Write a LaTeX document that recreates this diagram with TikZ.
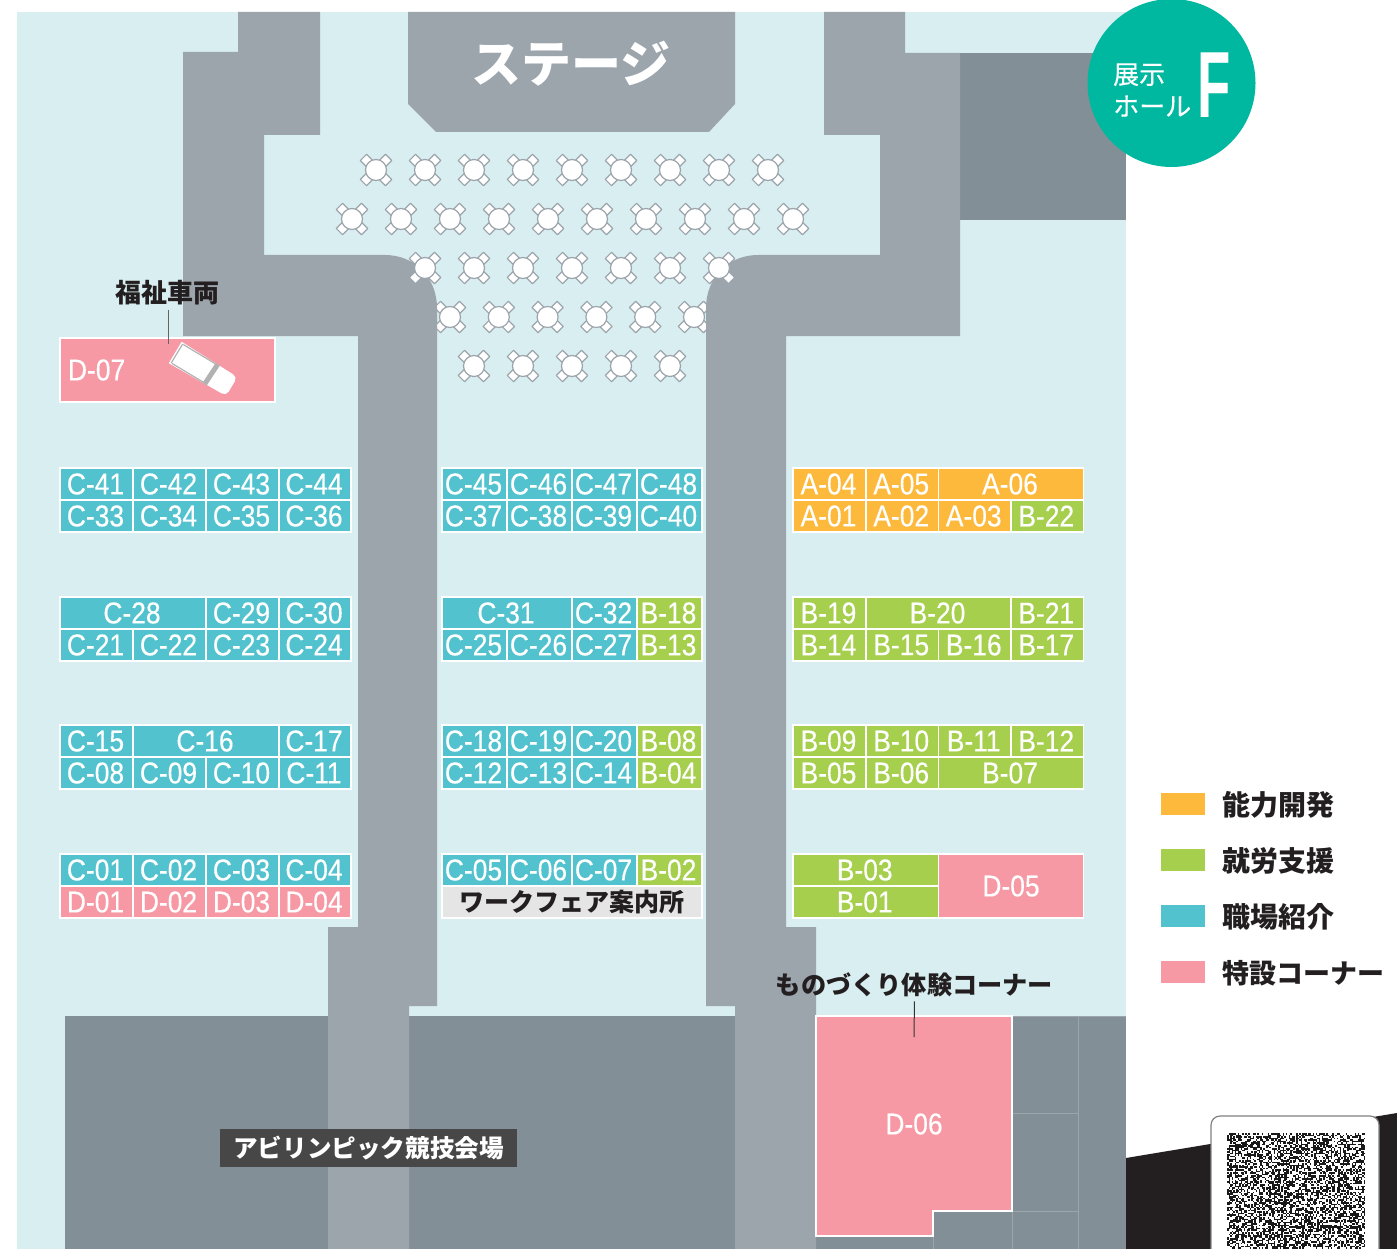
\documentclass[tikz,border=0pt]{standalone}
\usepackage{fontspec}
\setmainfont{Liberation Sans}
\newfontfamily\jpfont{Noto Sans CJK JP}
\newfontfamily\jpmedfont[FakeBold=0.3]{Noto Sans CJK JP}
\newfontfamily\boothfont[FakeStretch=0.88,FakeBold=0.4]{Liberation Sans}
\newfontfamily\hallfont[FakeStretch=0.58]{Liberation Sans}
\definecolor{colA}{HTML}{FDB93B}
\definecolor{colB}{HTML}{A5CF4C}
\definecolor{colC}{HTML}{52C3CE}
\definecolor{colD}{HTML}{F699A5}
\definecolor{floor}{HTML}{D8EEF0}
\definecolor{aisle}{HTML}{9DA5AC}
\definecolor{block}{HTML}{838F96}
\definecolor{inktext}{HTML}{231F20}
\definecolor{badge}{HTML}{00B8A0}
\tikzset{
    booth/.style={draw=white, line width=1.5pt, inner sep=0pt, minimum height=32pt, text=white,
        font=\boothfont\fontsize{30}{30}\selectfont},
    jplabel/.style={inner sep=0pt, text=inktext, font=\jpfont\bfseries\fontsize{#1}{#1}\selectfont},
    swatch/.style={fill=#1, inner sep=0pt, minimum width=44pt, minimum height=22pt},
    pics/roundtable/.style={code={
        \foreach \a in {45,135,225,315}
            \draw[draw=aisle, fill=white, line width=1.2pt, line join=round] (\a:13.4) ++(6.2,0) -- ++(-6.2,6.2) -- ++(-6.2,-6.2) -- ++(6.2,-6.2) -- cycle;
        \draw[draw=aisle, fill=white, line width=1.2pt] (0,0) circle (10.5);
    }}
}
\begin{document}
\begin{tikzpicture}[x=1pt, y=-1pt]
    \useasboundingbox (0,0) rectangle (1397,1249);
    \fill[white] (0,0) rectangle (1397,1249);

    % floor and halls
    \fill[floor] (17,12) rectangle (1126,1249);
    \fill[block] (960,53) rectangle (1126,220);
    \fill[block] (65,1016) rectangle (1126,1249);
    % this row runs under the aisles
    \foreach \x in {0,...,5} \pic at (450+48.8*\x,317) {roundtable};
    \fill[aisle] (238,12) -- (320,12) -- (320,135) -- (264,135) -- (264,255) -- (385,255)
        .. controls (415,255) and (437,278) .. (437,308) -- (437,1006) -- (409,1006) -- (409,1249)
        -- (328,1249) -- (328,927) -- (358,927) -- (358,336) -- (183,336) -- (183,52) -- (238,52) -- cycle;
    \fill[aisle] (905,12) -- (824,12) -- (824,135) -- (880,135) -- (880,255) -- (758,255)
        .. controls (728,255) and (706,278) .. (706,308) -- (706,1006) -- (735,1006) -- (735,1249)
        -- (816,1249) -- (816,927) -- (786,927) -- (786,336) -- (960,336) -- (960,53) -- (905,53) -- cycle;
    \fill[aisle] (408,12) -- (735,12) -- (735,104) -- (709,132) -- (436,132) -- (408,104) -- cycle;
    \node[jplabel=50, text=white] (stage) at (571,64) {ステージ};

    % tables
    \foreach \x in {0,...,8} \pic at (376+49*\x,170) {roundtable};
    \foreach \x in {0,...,9} \pic at (352+49*\x,219) {roundtable};
    \foreach \x in {0,...,6} \pic at (425+49*\x,268) {roundtable};
    \foreach \x in {0,...,4} \pic at (474+49*\x,366) {roundtable};

    % side rooms
    \draw[aisle, line width=1pt] (1012,1016) -- (1126,1016) (1012,1016) -- (1012,1249) (1078,1016) -- (1078,1249)
        (1012,1113) -- (1078,1113) (933,1211) -- (1078,1211) (933,1211) -- (933,1249) (816,1236) -- (933,1236);
    \filldraw[fill=colD, draw=white, line width=1.5pt] (816,1016) -- (1012,1016) -- (1012,1211) -- (933,1211) -- (933,1236) -- (816,1236) -- cycle;
    \node[booth, draw=none] (D-06) at (914,1124) {D-06};

    % left block
    \foreach \x/\w/\y/\t/\c in {
        60/73/468/C-41/colC, 133/73/468/C-42/colC, 206/73/468/C-43/colC, 279/72/468/C-44/colC,
        60/73/500/C-33/colC, 133/73/500/C-34/colC, 206/73/500/C-35/colC, 279/72/500/C-36/colC,
        60/146/597/C-28/colC, 206/73/597/C-29/colC, 279/72/597/C-30/colC,
        60/73/629/C-21/colC, 133/73/629/C-22/colC, 206/73/629/C-23/colC, 279/72/629/C-24/colC,
        60/73/725/C-15/colC, 133/146/725/C-16/colC, 279/72/725/C-17/colC,
        60/73/757/C-08/colC, 133/73/757/C-09/colC, 206/73/757/C-10/colC, 279/72/757/C-11/colC,
        60/73/854/C-01/colC, 133/73/854/C-02/colC, 206/73/854/C-03/colC, 279/72/854/C-04/colC,
        60/73/886/D-01/colD, 133/73/886/D-02/colD, 206/73/886/D-03/colD, 279/72/886/D-04/colD}
        \node[booth, fill=\c, minimum width=\w pt] (\t) at (\x+\w/2,\y+16) {\t\kern2pt};

    % middle block
    \foreach \x/\w/\y/\t/\c in {
        442/65/468/C-45/colC, 507/65/468/C-46/colC, 572/65/468/C-47/colC, 637/65/468/C-48/colC,
        442/65/500/C-37/colC, 507/65/500/C-38/colC, 572/65/500/C-39/colC, 637/65/500/C-40/colC,
        442/130/597/C-31/colC, 572/65/597/C-32/colC, 637/65/597/B-18/colB,
        442/65/629/C-25/colC, 507/65/629/C-26/colC, 572/65/629/C-27/colC, 637/65/629/B-13/colB,
        442/65/725/C-18/colC, 507/65/725/C-19/colC, 572/65/725/C-20/colC, 637/65/725/B-08/colB,
        442/65/757/C-12/colC, 507/65/757/C-13/colC, 572/65/757/C-14/colC, 637/65/757/B-04/colB,
        442/65/854/C-05/colC, 507/65/854/C-06/colC, 572/65/854/C-07/colC, 637/65/854/B-02/colB}
        \node[booth, fill=\c, minimum width=\w pt] (\t) at (\x+\w/2,\y+16) {\t\kern2pt};
    \node[booth, fill=black!10, minimum width=260pt, text=inktext, font=\jpfont\bfseries\fontsize{25}{25}\selectfont] (info) at (572,902) {ワークフェア案内所};

    % right block
    \foreach \x/\w/\y/\t/\c in {
        793/73/468/A-04/colA, 866/72.5/468/A-05/colA, 938.5/145/468/A-06/colA,
        793/73/500/A-01/colA, 866/72.5/500/A-02/colA, 938.5/72.5/500/A-03/colA, 1011/72.5/500/B-22/colB,
        793/73/597/B-19/colB, 866/145/597/B-20/colB, 1011/72.5/597/B-21/colB,
        793/73/629/B-14/colB, 866/72.5/629/B-15/colB, 938.5/72.5/629/B-16/colB, 1011/72.5/629/B-17/colB,
        793/73/725/B-09/colB, 866/72.5/725/B-10/colB, 938.5/72.5/725/B-11/colB, 1011/72.5/725/B-12/colB,
        793/73/757/B-05/colB, 866/72.5/757/B-06/colB, 938.5/145/757/B-07/colB,
        793/145.5/854/B-03/colB, 793/145.5/886/B-01/colB}
        \node[booth, fill=\c, minimum width=\w pt] (\t) at (\x+\w/2,\y+16) {\t\kern2pt};
    \node[booth, fill=colD, minimum width=145pt, minimum height=64pt] (D-05) at (1011,886) {D-05};

    % vehicle corner
    \node[booth, fill=colD, minimum width=215pt, minimum height=64pt, text width=199pt, align=left] (D-07) at (167.5,370) {D-07};
    \begin{scope}[shift={(203.5,369.5)}, rotate=-31]
        \fill[white] (-33,-12.5) [rounded corners=5pt] -- (33,-11) -- (33,11) [sharp corners] -- (-33,12.5) -- cycle;
        \draw[black!30, line width=1.2pt] (-31,-11) -- (-31,11) (-30,-11) -- (7,-11) (-30,11) -- (7,11);
        \fill[black!30] (7,-12) -- (12,-12) -- (11,12) -- (6,12) -- cycle;
    \end{scope}
    \node[jplabel=26] (lblD-07) at (167,293) {福祉車両};
    \coordinate (endD-07) at (168,344);
    \draw[black!60, line width=1pt, shorten <=4pt] (lblD-07.south -| endD-07) -- (endD-07);

    \node[jplabel=25.2] (lblD-06) at (914.5,985) {ものづくり体験コーナー};
    \coordinate (endD-06) at (914,1037);
    \draw[black!80, line width=1pt, shorten <=4pt] (lblD-06.south) -- (endD-06);

    \node[jplabel=24.6, fill=black!72, text=white, minimum width=297pt, minimum height=38pt] (arena) at (368.5,1148) {アビリンピック競技会場};

    % legend
    \node[swatch=colA] (keyA) at (1183,804) {};
    \node[swatch=colB] (keyB) at (1183,860) {};
    \node[swatch=colC] (keyC) at (1183,916) {};
    \node[swatch=colD] (keyD) at (1183,972) {};
    \node[jplabel=28, anchor=west] (txtA) at (1222,805) {能力開発};
    \node[jplabel=28, anchor=west] (txtB) at (1222,861) {就労支援};
    \node[jplabel=28, anchor=west] (txtC) at (1222,917) {職場紹介};
    \node[jplabel=27, anchor=west] (txtD) at (1222,973) {特設コーナー};

    % hall badge
    \fill[badge] (1171.5,83) circle (84);
    \node[inner sep=0pt, text=white, anchor=west, align=left, font=\jpmedfont\fontsize{26}{32}\selectfont] (hall) at (1113,90) {展示\\ホール};
    \node[inner sep=0pt, text=white, font=\hallfont\bfseries\fontsize{94}{94}\selectfont] (hallF) at (1214,85) {F};

    % code card
    \fill[inktext] (1126,1158) -- (1397,1113) -- (1397,1249) -- (1126,1249) -- cycle;
    \filldraw[fill=white, draw=black!50, line width=1.2pt, rounded corners=9pt] (1211,1262) -- (1211,1116) -- (1379,1116) -- (1379,1262) -- cycle;
    \pgfmathsetseed{7}
    \foreach \i in {0,...,91}
        \foreach \j in {0,...,77} {
            \pgfmathparse{rnd<0.5 ? 1 : 0}
            \ifnum\pgfmathresult=1
                \fill[black!90] (1227+1.5*\i,1133+1.5*\j) rectangle ++(1.5,1.5);
            \fi
        }
\end{tikzpicture}
\end{document}
